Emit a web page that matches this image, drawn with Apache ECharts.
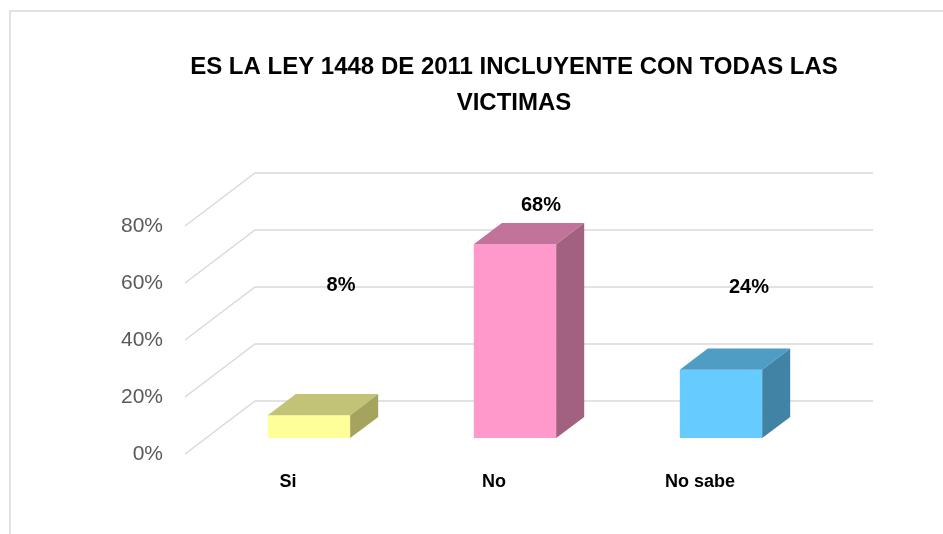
<!DOCTYPE html>
<html>
<head>
<meta charset="utf-8">
<script src="https://cdn.jsdelivr.net/npm/echarts@6/dist/echarts.min.js"></script>
<style>
html,body{margin:0;padding:0;background:#fff;}
#chart{width:943px;height:534px;}
</style>
</head>
<body>
<div id="chart"></div>
<script>
// datos
var categories = ['Si', 'No', 'No sabe'];
var values = [8, 68, 24];
var valueLabels = ['8%', '68%', '24%'];
var yTicks = [0, 20, 40, 60, 80];

// estilo 3D
var DX = 70, DY = -53;          // profundidad del piso
var FRONT = 0.3, BACK = 0.7;    // donde van las barras en la profundidad
var faceColors = [
	{front: '#FFFF99', top: '#C3C378', side: '#A4A45F'},
	{front: '#FF99CC', top: '#C27399', side: '#A2627F'},
	{front: '#66CCFF', top: '#4F9DC5', side: '#4183A5'}
];
var labelNudge = [[32, -130], [26, -39], [28, -82]];

var chart = echarts.init(document.getElementById('chart'));

var option = {
	animation: false,
	title: {
		text: 'ES LA LEY 1448 DE 2011 INCLUYENTE CON TODAS LAS\nVICTIMAS',
		left: 509,
		top: 44,
		textAlign: 'center',
		textStyle: {
			fontFamily: 'Liberation Sans',
			fontWeight: 'bold',
			fontSize: 24,
			lineHeight: 36,
			color: '#000'
		}
	},
	graphic: [{
		type: 'rect',
		shape: {x: 10, y: 11, width: 1000, height: 600},
		style: {fill: 'none', stroke: '#d9d9d9', lineWidth: 1.5},
		silent: true
	}],
	grid: {left: 185, right: 140, top: 226, bottom: 80},
	xAxis: {
		type: 'category',
		data: categories,
		axisLine: {show: false},
		axisTick: {show: false},
		axisLabel: {
			margin: 19,
			fontFamily: 'Liberation Sans',
			fontWeight: 'bold',
			fontSize: 18,
			color: '#000'
		}
	},
	yAxis: {
		type: 'value',
		min: 0,
		max: 80,
		interval: 20,
		splitLine: {show: false},
		axisLine: {show: false},
		axisTick: {show: false},
		axisLabel: {
			margin: 22,
			padding: [4, 0, 0, 0],
			formatter: '{value}%',
			fontFamily: 'Liberation Sans',
			fontSize: 21,
			color: '#595959'
		}
	},
	series: [
		{
			// lineas de division en perspectiva
			type: 'custom',
			z: 1,
			silent: true,
			data: yTicks.map(function(v){ return [0, v]; }),
			renderItem: function(params, api){
				var p = api.coord([0, api.value(1)]);
				var band = api.size([1, 0])[0];
				var left = p[0] - band / 2;
				var right = left + band * categories.length;
				return {
					type: 'polyline',
					shape: {points: [[left, p[1]], [left + DX, p[1] + DY], [right + DX, p[1] + DY]]},
					style: {fill: 'none', stroke: '#d9d9d9', lineWidth: 1.5}
				};
			}
		},
		{
			type: 'custom',
			z: 5,
			data: categories.map(function(c, i){ return [i, values[i]]; }),
			renderItem: function(params, api){
				var i = params.dataIndex;
				var b = api.coord([api.value(0), 0]);
				var t = api.coord([api.value(0), api.value(1)]);
				var band = api.size([1, 0])[0];
				var w = band * 0.4;
				var fx = DX * FRONT, fy = DY * FRONT, bx = DX * BACK, by = DY * BACK;
				var x1 = b[0] - w / 2, x2 = b[0] + w / 2;
				var yb = b[1], yt = t[1];
				var c = faceColors[i];
				return {
					type: 'group',
					children: [
						{type: 'polygon', shape: {points: [[x1 + fx, yb + fy], [x2 + fx, yb + fy], [x2 + fx, yt + fy], [x1 + fx, yt + fy]]}, style: {fill: c.front}},
						{type: 'polygon', shape: {points: [[x1 + fx, yt + fy], [x2 + fx, yt + fy], [x2 + bx, yt + by], [x1 + bx, yt + by]]}, style: {fill: c.top}},
						{type: 'polygon', shape: {points: [[x2 + fx, yb + fy], [x2 + bx, yb + by], [x2 + bx, yt + by], [x2 + fx, yt + fy]]}, style: {fill: c.side}},
						{
							type: 'text',
							x: b[0] + fx + labelNudge[i][0],
							y: yt + fy + labelNudge[i][1],
							style: {
								text: valueLabels[i],
								align: 'center',
								verticalAlign: 'middle',
								fontFamily: 'Liberation Sans',
								fontWeight: 'bold',
								fontSize: 20,
								fill: '#000'
							}
						}
					]
				};
			}
		}
	]
};

chart.setOption(option);
</script>
</body>
</html>
